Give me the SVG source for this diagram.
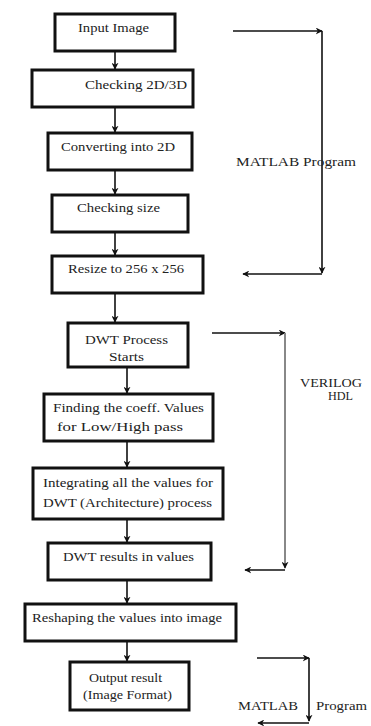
<svg xmlns="http://www.w3.org/2000/svg" width="371" height="726" viewBox="0 0 371 726">
<defs>
<style>
.box{fill:#fff;stroke:#111;stroke-width:3}
.t{font-family:'Liberation Serif','Times New Roman','DejaVu Serif',serif;font-size:12px;fill:#222}
.c{fill:none;stroke:#111;stroke-width:1.6}
.g{fill:none;stroke:#888;stroke-width:2}
</style>
<marker id="ah" viewBox="0 0 10 10" refX="9" refY="5" markerWidth="7" markerHeight="7" markerUnits="userSpaceOnUse" orient="auto">
<path d="M0,0 L10,5 L0,10 L3,5 Z" fill="#111"/>
</marker>
</defs>
<rect width="371" height="726" fill="#fff"/>
<g id="connectors">
<line class="c" x1="115" y1="51" x2="115" y2="69" marker-end="url(#ah)"/>
<line class="c" x1="115" y1="107" x2="115" y2="132" marker-end="url(#ah)"/>
<line class="c" x1="115" y1="170" x2="115" y2="194" marker-end="url(#ah)"/>
<line class="c" x1="115" y1="232" x2="115" y2="255" marker-end="url(#ah)"/>
<line class="c" x1="115" y1="293" x2="115" y2="322" marker-end="url(#ah)"/>
<line class="c" x1="127" y1="367" x2="127" y2="393" marker-end="url(#ah)"/>
<line class="c" x1="127" y1="441" x2="127" y2="467" marker-end="url(#ah)"/>
<line class="c" x1="127" y1="519" x2="127" y2="542" marker-end="url(#ah)"/>
<line class="c" x1="127" y1="580" x2="127" y2="603" marker-end="url(#ah)"/>
<line class="c" x1="127" y1="641" x2="127" y2="661" marker-end="url(#ah)"/>
<line class="c" x1="233" y1="31" x2="322" y2="31" marker-end="url(#ah)"/>
<line class="c" x1="322" y1="31" x2="322" y2="273" marker-end="url(#ah)"/>
<line class="c" x1="322" y1="274" x2="243" y2="274" marker-end="url(#ah)"/>
<line class="c" x1="212" y1="333" x2="285" y2="333" marker-end="url(#ah)"/>
<line class="g" x1="285" y1="333" x2="285" y2="568" marker-end="url(#ah)"/>
<line class="c" x1="285" y1="570" x2="245" y2="570" marker-end="url(#ah)"/>
<line class="c" x1="257" y1="658" x2="309" y2="658" marker-end="url(#ah)"/>
<line class="c" x1="309" y1="658" x2="309" y2="721" marker-end="url(#ah)"/>
<line class="c" x1="309" y1="723" x2="258" y2="723" marker-end="url(#ah)"/>
</g>
<g id="n1"><rect class="box" x="55" y="14" width="120" height="37"/><text class="t" x="78" y="32" textLength="71" lengthAdjust="spacingAndGlyphs">Input Image</text></g>
<g id="n2"><rect class="box" x="32" y="70" width="161" height="37"/><text class="t" x="85" y="89" textLength="102" lengthAdjust="spacingAndGlyphs">Checking 2D/3D</text></g>
<g id="n3"><rect class="box" x="48" y="133" width="144" height="37"/><text class="t" x="61" y="151" textLength="114" lengthAdjust="spacingAndGlyphs">Converting into 2D</text></g>
<g id="n4"><rect class="box" x="52" y="195" width="136" height="37"/><text class="t" x="77" y="212" textLength="83" lengthAdjust="spacingAndGlyphs">Checking size</text></g>
<g id="n5"><rect class="box" x="52" y="256" width="151" height="37"/><text class="t" x="68" y="273" textLength="116" lengthAdjust="spacingAndGlyphs">Resize to 256 x 256</text></g>
<g id="n6"><rect class="box" x="68" y="323" width="120" height="44"/><text class="t" x="85" y="344" textLength="83" lengthAdjust="spacingAndGlyphs">DWT Process</text><text class="t" x="109" y="361" textLength="35" lengthAdjust="spacingAndGlyphs">Starts</text></g>
<g id="n7"><rect class="box" x="44" y="394" width="169" height="47"/><text class="t" x="53" y="412" textLength="151" lengthAdjust="spacingAndGlyphs">Finding the coeff. Values</text><text class="t" x="57" y="431" textLength="126" lengthAdjust="spacingAndGlyphs">for Low/High pass</text></g>
<g id="n8"><rect class="box" x="33" y="468" width="190" height="51"/><text class="t" x="43" y="487" textLength="170" lengthAdjust="spacingAndGlyphs">Integrating all the values for</text><text class="t" x="43" y="507" textLength="169" lengthAdjust="spacingAndGlyphs">DWT (Architecture) process</text></g>
<g id="n9"><rect class="box" x="48" y="543" width="163" height="37"/><text class="t" x="63" y="561" textLength="131" lengthAdjust="spacingAndGlyphs">DWT results in values</text></g>
<g id="n10"><rect class="box" x="25" y="604" width="211" height="37"/><text class="t" x="32" y="622" textLength="190" lengthAdjust="spacingAndGlyphs">Reshaping the values into image</text></g>
<g id="n11"><rect class="box" x="70" y="662" width="119" height="48"/><text class="t" x="89" y="682" textLength="73" lengthAdjust="spacingAndGlyphs">Output result</text><text class="t" x="83" y="699" textLength="89" lengthAdjust="spacingAndGlyphs">(Image Format)</text></g>
<g id="labels">
<text class="t" x="236" y="166" textLength="120" lengthAdjust="spacingAndGlyphs">MATLAB Program</text>
<text class="t" x="300" y="387" textLength="62" lengthAdjust="spacingAndGlyphs">VERILOG</text>
<text class="t" x="328" y="400" textLength="25" lengthAdjust="spacingAndGlyphs">HDL</text>
<text class="t" x="238" y="710" textLength="60" lengthAdjust="spacingAndGlyphs">MATLAB</text>
<text class="t" x="316" y="710" textLength="51" lengthAdjust="spacingAndGlyphs">Program</text>
</g>
</svg>
